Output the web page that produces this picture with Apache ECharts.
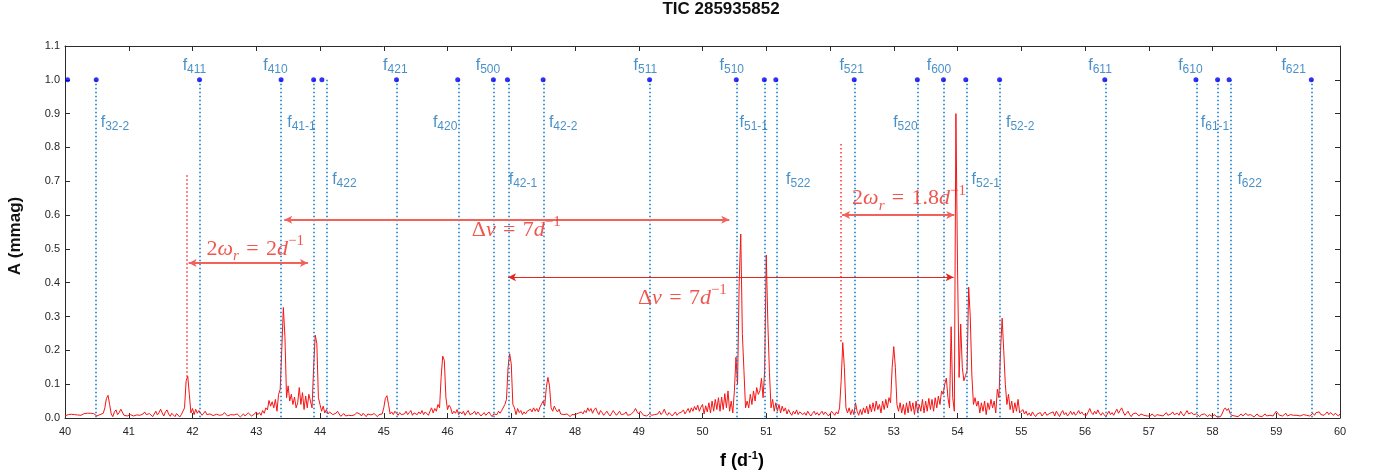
<!DOCTYPE html>
<html>
<head>
<meta charset="utf-8">
<title>TIC 285935852</title>
<script src="https://cdn.jsdelivr.net/npm/echarts@6/dist/echarts.min.js"></script>
<style>
  html, body { margin: 0; padding: 0; background: #ffffff; }
  #chart { width: 1374px; height: 476px; }
</style>
</head>
<body>
<div id="chart"></div>
<script>
// Amplitude spectrum of TIC 285935852, sampled every 0.025 d^-1 from 40 to 60 d^-1
const TITLE = 'TIC 285935852';
const FREQ_START = 40;
const FREQ_STEP = 0.025;

// amplitude in mmag, one row per 1 d^-1
const amplitude = [
  .006,.008,.010,.009,.011,.012,.010,.008,.009,.006,.008,.011,.013,.012,.014,.013,.014,.015,.013,.014,.006,.002,.010,.006,.014,.030,.058,.067,.040,.012,.004,.018,.024,.010,.016,.026,.022,.008,.012,.006,
  .004,.010,.012,.006,.003,.009,.014,.008,.004,.012,.018,.010,.005,.013,.008,.004,.012,.020,.009,.016,.026,.015,.006,.018,.024,.012,.005,.014,.010,.004,.013,.008,.003,.010,.015,.030,.110,.124,.070,.015,
  .028,.010,.026,.014,.022,.018,.008,.014,.020,.010,.006,.012,.016,.007,.004,.011,.015,.008,.003,.010,.016,.012,.006,.004,.010,.014,.009,.005,.012,.008,.003,.007,.012,.006,.009,.015,.011,.006,.010,.012,
  .018,.010,.016,.008,.022,.014,.030,.024,.052,.035,.048,.030,.055,.020,.070,.084,.200,.327,.240,.060,.095,.050,.070,.040,.062,.030,.045,.090,.040,.075,.025,.065,.030,.070,.068,.030,.150,.245,.220,.060,
  .040,.020,.035,.015,.025,.012,.018,.022,.010,.006,.014,.020,.012,.005,.009,.013,.006,.003,.008,.012,.007,.005,.010,.016,.020,.012,.006,.014,.010,.004,.012,.017,.009,.005,.013,.008,.004,.010,.015,.012,
  .030,.058,.066,.040,.012,.018,.010,.020,.014,.008,.016,.010,.005,.012,.020,.010,.016,.022,.008,.015,.020,.010,.018,.012,.022,.010,.018,.014,.008,.020,.030,.015,.028,.020,.040,.030,.120,.183,.170,.060,
  .025,.038,.030,.012,.020,.014,.025,.010,.018,.012,.020,.008,.016,.022,.010,.006,.014,.020,.010,.018,.012,.006,.010,.016,.008,.012,.018,.010,.004,.012,.015,.010,.020,.014,.022,.018,.040,.055,.150,.190,
  .160,.040,.030,.010,.028,.016,.022,.010,.018,.012,.020,.015,.026,.018,.030,.020,.028,.018,.032,.030,.050,.035,.090,.120,.095,.030,.020,.035,.025,.018,.026,.012,.016,.010,.006,.012,.008,.004,.010,.015,
  .010,.006,.014,.009,.018,.012,.022,.016,.030,.020,.028,.014,.024,.030,.018,.010,.022,.016,.008,.014,.020,.012,.006,.014,.022,.015,.008,.012,.020,.010,.005,.012,.018,.008,.004,.010,.014,.020,.028,.018,
  .012,.020,.014,.008,.012,.006,.010,.014,.008,.004,.010,.006,.012,.020,.010,.016,.026,.014,.008,.016,.012,.006,.010,.018,.008,.014,.010,.018,.024,.012,.020,.028,.016,.030,.020,.034,.024,.038,.020,.032,
  .040,.012,.036,.018,.045,.015,.050,.020,.055,.025,.060,.020,.062,.025,.072,.030,.080,.020,.050,.015,.080,.180,.100,.400,.544,.250,.140,.030,.050,.030,.070,.040,.080,.050,.090,.070,.080,.117,.060,.140,
  .482,.280,.134,.030,.055,.020,.045,.020,.040,.015,.035,.020,.030,.012,.025,.015,.008,.020,.012,.024,.010,.018,.022,.010,.016,.008,.020,.012,.006,.014,.020,.010,.016,.008,.012,.020,.010,.018,.012,.006,
  .012,.020,.014,.008,.018,.012,.030,.110,.223,.150,.030,.015,.030,.010,.025,.010,.045,.020,.008,.025,.010,.030,.015,.035,.012,.040,.018,.045,.020,.050,.025,.040,.015,.050,.025,.055,.030,.060,.045,.150,
  .211,.150,.040,.020,.045,.015,.040,.010,.045,.015,.050,.020,.045,.010,.050,.015,.040,.020,.055,.015,.050,.020,.058,.025,.055,.020,.060,.030,.065,.040,.080,.070,.100,.118,.060,.030,.270,.060,.020,.900,
  .450,.120,.278,.150,.110,.125,.140,.387,.300,.127,.040,.060,.035,.050,.015,.045,.020,.050,.010,.045,.025,.055,.030,.050,.015,.085,.060,.200,.295,.200,.100,.040,.070,.025,.050,.015,.045,.020,.055,.015,
  .010,.025,.012,.020,.008,.015,.006,.018,.010,.004,.012,.008,.016,.006,.012,.018,.008,.004,.014,.010,.018,.006,.020,.012,.004,.015,.022,.010,.016,.006,.012,.020,.010,.018,.008,.014,.022,.012,.018,.010,
  .014,.008,.018,.028,.016,.010,.020,.012,.024,.014,.008,.016,.010,.004,.012,.020,.010,.016,.008,.018,.026,.014,.022,.030,.018,.008,.014,.020,.010,.004,.012,.008,.015,.010,.006,.012,.016,.008,.012,.006,
  .010,.006,.012,.008,.004,.010,.014,.008,.012,.006,.010,.016,.008,.004,.012,.018,.010,.006,.014,.008,.020,.012,.006,.014,.022,.012,.008,.016,.010,.005,.012,.008,.004,.010,.006,.012,.008,.004,.010,.007,
  .004,.010,.006,.003,.008,.004,.012,.024,.030,.022,.028,.014,.008,.012,.006,.010,.004,.008,.012,.006,.010,.014,.008,.004,.010,.006,.003,.008,.012,.006,.010,.004,.008,.012,.006,.003,.008,.012,.006,.010,
  .020,.014,.008,.012,.006,.010,.014,.006,.004,.010,.014,.008,.003,.008,.012,.006,.004,.010,.015,.008,.012,.006,.010,.014,.008,.016,.012,.018,.010,.014,.008,.012,.018,.010,.016,.012,.008,.014,.010,.006,
  .012
];

// predicted mode frequencies (d^-1), drawn as dots at A = 1.0
const modeDots = [40.04, 40.49, 42.11, 43.39, 43.90, 44.03, 45.20, 46.16, 46.72, 46.94, 47.50, 49.17,
  50.53, 50.97, 51.15, 52.38, 53.37, 53.78, 54.13, 54.66, 56.31, 57.74, 58.08, 58.26, 59.55];
// dotted guide lines under the predicted modes
const modeLines = [40.49, 42.12, 43.39, 43.90, 44.10, 45.20, 46.17, 46.72, 46.96, 47.51, 49.18,
  50.54, 50.98, 51.17, 52.39, 53.37, 53.79, 54.14, 54.67, 56.32, 57.75, 58.09, 58.28, 59.56];
// mode labels: subscript, frequency of the label's left edge, amplitude of its centre line
const modeLabels = [
  ['411', 41.845, 1.041], ['410', 43.108, 1.041], ['421', 44.989, 1.041], ['500', 46.442, 1.041],
  ['511', 48.918, 1.041], ['510', 50.266, 1.041], ['521', 52.147, 1.041], ['600', 53.516, 1.041],
  ['611', 56.050, 1.041], ['610', 57.460, 1.041], ['621', 59.080, 1.041],
  ['32-2', 40.56, 0.873], ['41-1', 43.485, 0.873], ['420', 45.77, 0.873], ['42-2', 47.59, 0.873],
  ['51-1', 50.58, 0.873], ['520', 52.99, 0.873], ['52-2', 54.76, 0.873], ['61-1', 57.816, 0.873],
  ['422', 44.19, 0.706], ['42-1', 46.959, 0.706], ['522', 51.31, 0.706], ['52-1', 54.22, 0.706],
  ['622', 58.39, 0.706]
];

// red dotted markers: frequency, lower and upper amplitude
const peakMarkers = [[41.91, 0.122, 0.72], [52.17, 0.226, 0.817]];
// spacing arrows drawn in the light tone: from, to, amplitude
const softArrows = [[41.94, 43.81, 0.458], [43.44, 50.42, 0.586], [52.19, 53.95, 0.600]];
// spacing arrow drawn thin and dark: from, to, amplitude
const sharpArrows = [[46.95, 53.94, 0.416]];
// spacing notes: rich text, left edge frequency, amplitude of the text centre line
const spacingNotes = [
  ['{n|2}{i|ω}{sub|r}{n|\u2004=\u20042}{i|d}{sup|−1}', 42.22, 0.500],
  ['{n|Δ}{i|ν}{n|\u2004=\u20047}{i|d}{sup|−1}', 46.38, 0.556],
  ['{n|Δ}{i|ν}{n|\u2004=\u20047}{i|d}{sup|−1}', 48.986, 0.355],
  ['{n|2}{i|ω}{sub|r}{n|\u2004=\u20041.8}{i|d}{sup|−1}', 52.346, 0.650]
];

const spectrum = amplitude.map((a, i) => [+(FREQ_START + i * FREQ_STEP).toFixed(3), a]);

const AXIS_COLOR = '#2b2b2b';
const LABEL_FONT = '"Liberation Sans", Arial, Helvetica, sans-serif';
const SERIF = '"Liberation Serif", "Times New Roman", serif';
const MODE_BLUE = '#1a74b8';
const NOTE_RED = '#ee2c22';

const tickStyle = { fontFamily: LABEL_FONT, fontSize: 11, color: '#262626' };

function frameAxis(extra) {
  return Object.assign({
    type: 'value',
    axisLine: { show: true, onZero: false, lineStyle: { color: AXIS_COLOR, width: 1 } },
    axisTick: { show: true, inside: true, length: 5, lineStyle: { color: AXIS_COLOR, width: 1 } },
    splitLine: { show: false },
    axisLabel: Object.assign({ show: true }, tickStyle)
  }, extra);
}

function arrowSeries(name, list, color, width) {
  return {
    name: name,
    type: 'line',
    data: [],
    z: 7,
    silent: true,
    markLine: {
      silent: true, animation: false,
      symbol: ['arrow', 'arrow'], symbolSize: [6, 8],
      label: { show: false },
      emphasis: { disabled: true },
      itemStyle: { color: color },
      lineStyle: { color: color, width: width, type: 'solid', opacity: 1 },
      data: list.map(([a, b, y]) => [{ coord: [a, y] }, { coord: [b, y] }])
    }
  };
}

const chart = echarts.init(document.getElementById('chart'), null, { renderer: 'canvas' });

const option = {
  animation: false,
  backgroundColor: '#ffffff',
  grid: { left: 65, right: 34, top: 46, bottom: 58, containLabel: false },
  xAxis: [
    frameAxis({ position: 'bottom', min: 40, max: 60, interval: 1,
      axisLabel: Object.assign({ margin: 8 }, tickStyle) }),
    frameAxis({ position: 'top', min: 40, max: 60, interval: 1, axisLabel: { show: false } })
  ],
  yAxis: [
    frameAxis({ position: 'left', min: 0, max: 1.1, interval: 0.1,
      axisLabel: Object.assign({ margin: 5, formatter: v => v.toFixed(1) }, tickStyle) }),
    frameAxis({ position: 'right', min: 0, max: 1.1, interval: 0.1, axisLabel: { show: false } })
  ],
  graphic: [
    { type: 'text', x: 721, y: 9, silent: true,
      style: { text: TITLE, fontFamily: LABEL_FONT, fontWeight: 'bold', fontSize: 17,
               fill: '#111', align: 'center', verticalAlign: 'middle' } },
    { type: 'text', x: 742, y: 461, silent: true,
      style: { text: '{b|f (d}{s|-1}{b|)}', align: 'center', verticalAlign: 'middle',
        rich: {
          b: { fontFamily: LABEL_FONT, fontWeight: 'bold', fontSize: 18, lineHeight: 22, verticalAlign: 'middle', color: '#111' },
          s: { fontFamily: LABEL_FONT, fontWeight: 'bold', fontSize: 11, lineHeight: 14, verticalAlign: 'top', color: '#111' }
        } } },
    { type: 'text', x: 15, y: 236, rotation: Math.PI / 2, silent: true,
      style: { text: 'A (mmag)', fontFamily: LABEL_FONT, fontWeight: 'bold', fontSize: 17,
               fill: '#111', align: 'center', verticalAlign: 'middle' } }
  ],
  series: [
    {
      name: 'modes',
      type: 'scatter',
      xAxisIndex: 0, yAxisIndex: 0,
      symbol: 'circle', symbolSize: 5,
      itemStyle: { color: '#0000f0' },
      z: 5,
      silent: true,
      data: modeDots.map(f => [f, 1.0]),
      markLine: {
        silent: true, symbol: ['none', 'none'], animation: false,
        label: { show: false },
        lineStyle: { color: '#0a78c6', width: 1.5, type: [1.5, 2.5] },
        emphasis: { disabled: true },
        data: modeLines.map(f => [{ coord: [f, 1.0] }, { coord: [f, 0] }])
      }
    },
    {
      name: 'mode labels',
      type: 'scatter',
      symbol: 'circle', symbolSize: 0.1,
      itemStyle: { color: 'transparent' },
      silent: true,
      z: 6,
      data: modeLabels.map(([sub, f, a]) => ({ value: [f, a], name: sub })),
      label: {
        show: true, position: 'right', distance: 0,
        formatter: p => '{f|f}{s|' + p.name + '}',
        rich: {
          f: { fontFamily: LABEL_FONT, fontSize: 16, lineHeight: 20, verticalAlign: 'middle', color: MODE_BLUE },
          s: { fontFamily: LABEL_FONT, fontSize: 12, lineHeight: 12, verticalAlign: 'bottom', color: MODE_BLUE }
        }
      }
    },
    {
      name: 'amplitude',
      type: 'line',
      data: spectrum,
      showSymbol: false,
      symbol: 'none',
      smooth: false,
      z: 4,
      lineStyle: { color: '#f51515', width: 1 },
      silent: true,
      markLine: {
        silent: true, animation: false, symbol: ['none', 'none'],
        label: { show: false },
        emphasis: { disabled: true },
        lineStyle: { color: '#ff3030', width: 1.5, type: [1.5, 2.5] },
        data: peakMarkers.map(([f, lo, hi]) => [{ coord: [f, lo] }, { coord: [f, hi] }])
      }
    },
    arrowSeries('spacing (light)', softArrows, '#f2625a', 1.8),
    arrowSeries('spacing (dark)', sharpArrows, '#e3261d', 1),
    {
      name: 'spacing notes',
      type: 'scatter',
      symbol: 'circle', symbolSize: 0.1,
      itemStyle: { color: 'transparent' },
      silent: true,
      z: 8,
      data: spacingNotes.map(([txt, f, a]) => ({ value: [f, a], name: txt })),
      label: {
        show: true, position: 'right', distance: 0,
        formatter: p => p.name,
        rich: {
          n: { fontFamily: SERIF, fontSize: 22, lineHeight: 30, verticalAlign: 'middle', color: NOTE_RED },
          i: { fontFamily: SERIF, fontStyle: 'italic', fontSize: 22, lineHeight: 30, verticalAlign: 'middle', color: NOTE_RED },
          sub: { fontFamily: SERIF, fontStyle: 'italic', fontSize: 15, lineHeight: 15, verticalAlign: 'bottom', color: NOTE_RED },
          sup: { fontFamily: SERIF, fontSize: 15, lineHeight: 20, verticalAlign: 'top', color: NOTE_RED }
        }
      }
    }
  ]
};

chart.setOption(option);
</script>
</body>
</html>
